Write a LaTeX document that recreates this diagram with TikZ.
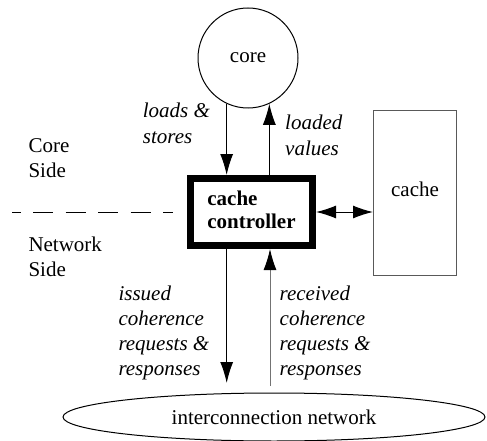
\documentclass[tikz,border=0pt]{standalone}
\usepackage{fontspec}
\setmainfont{LiberationSerif}[Extension=.ttf, UprightFont=*-Regular, BoldFont=*-Bold,
  ItalicFont=*-Italic, BoldItalicFont=*-BoldItalic]
\usetikzlibrary{arrows.meta,shapes.geometric}
\definecolor{cachegray}{gray}{0.35}
\definecolor{upgray}{gray}{0.45}
% stacked left-aligned lines whose baseline is the first line
\newcommand\txtlines[1]{\begin{tabular}[t]{@{}l@{}}#1\end{tabular}}

\begin{document}
\begin{tikzpicture}[x=1pt,y=-1pt,
  font=\rmfamily\fontsize{21}{25}\selectfont,
  thin line/.style={line width=1pt},
  arr/.style={thin line, -{Latex[length=21pt,width=13pt]}},
  dbl/.style={thin line, {Latex[length=20pt,width=13pt]}-{Latex[length=20pt,width=13pt]}},
  lbl/.style={anchor=base west, inner sep=0pt, font=\rmfamily\fontsize{21}{25}\selectfont\itshape},
  side/.style={anchor=base west, inner sep=0pt}]
\useasboundingbox (0,0) rectangle (487,441);

% main blocks
\node[circle, draw, thin line, minimum size=100pt, inner sep=0pt] (core) at (248,58) {core};
\node[draw, line width=7pt, minimum width=122pt, minimum height=67pt, inner sep=0pt,
      font=\rmfamily\fontsize{21}{23}\selectfont\bfseries] (ctrl) at (251.5,212) {\txtlines{cache\\controller}};
\node[draw=cachegray, thin line, minimum width=83pt, minimum height=164pt,
      text height=15pt, text depth=9pt, inner sep=0pt] (cache) at (415,193) {cache};
\node[ellipse, draw, thin line, minimum width=422pt, minimum height=48pt, inner sep=0pt]
      (net) at (274,417) {interconnection network};

% core <-> controller
\draw[arr] (core.-115) -- (core.-115 |- ctrl.north);
\draw[arr] (ctrl.north -| core.-65) -- (core.-65);

% controller <-> cache
\draw[dbl] (ctrl.east) -- (ctrl.east -| cache.west);

% controller <-> network
\coordinate (dnEnd) at (226.7,383);
\coordinate (upStart) at (270,386);
\draw[arr] (ctrl.south -| dnEnd) -- (dnEnd);
\draw[thin line, draw=upgray, -{Latex[length=21pt,width=13pt,color=black]}] (upStart) -- (upStart |- ctrl.south);

% side separator
\coordinate (dl) at (12,212);
\coordinate (dr) at (173,212);
\draw[thin line, dash pattern=on 20pt off 12.5pt, dash phase=11.5pt] (dl) -- (dr);

% labels
\node[side] (cs) at (28.3,152.7) {\txtlines{Core\\Side}};
\node[side] (ns) at (28.3,251.7) {\txtlines{Network\\Side}};
\node[lbl] (ls) at (142.7,118) {\txtlines{loads \&\\stores}};
\node[lbl] (lv) at (285,130) {\txtlines{loaded\\values}};
\node[lbl] (iss) at (118.3,300) {\txtlines{issued\\coherence\\requests \&\\responses}};
\node[lbl] (rcv) at (279.5,300) {\txtlines{received\\coherence\\requests \&\\responses}};
\end{tikzpicture}
\end{document}
